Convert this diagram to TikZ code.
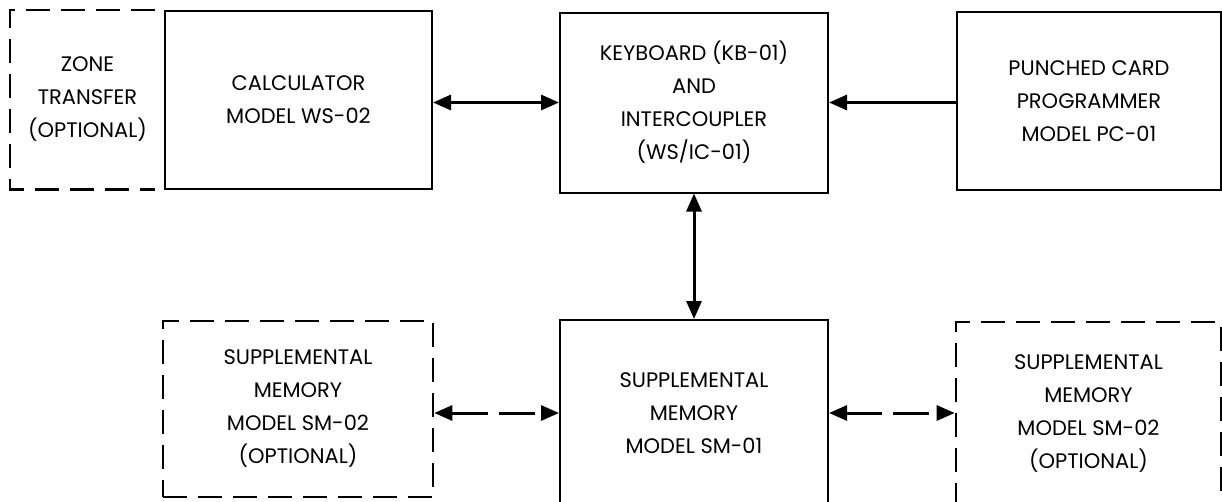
\documentclass[tikz,border=0pt]{standalone}
\usepackage{fontspec}
\setmainfont{Poppins}
\usetikzlibrary{calc}
\usetikzlibrary{positioning}
\usetikzlibrary{arrows.meta}
\tikzstyle{unitnode} = [draw, rectangle, line width=2pt, align=center, inner sep=0pt, font=\fontsize{21}{33}\selectfont]
\tikzstyle{optnode} = [unitnode, line width=2.6pt, dash pattern=on 24pt off 11pt]
\tikzstyle{optline} = [line width=2.6pt, dash pattern=on 24pt off 11pt]
\tikzstyle{link} = [line width=3pt, {Triangle[length=18pt,width=15pt]}-{Triangle[length=18pt,width=15pt]}]
\tikzstyle{feed} = [line width=3pt, -{Triangle[length=18pt,width=15pt]}]
\tikzstyle{optlink} = [link, dash pattern=on 36pt off 11pt]

\begin{document}
\begin{tikzpicture}[x=1pt, y=-1pt]
    \useasboundingbox (0,0) rectangle (1222,501);
    \node[unitnode, minimum width=268pt, minimum height=180pt] (kbd) at (694,102.5) {KEYBOARD (KB-01)\\AND\\INTERCOUPLER\\(WS/IC-01)};
    \node[unitnode, minimum width=267pt, minimum height=178pt] (calculator) at ($(kbd)+(-395.5,-2.5)$) {CALCULATOR\\MODEL WS-02};
    \node[unitnode, minimum width=264pt, minimum height=178pt] (punched) at ($(kbd)+(395,-1.5)$) {PUNCHED CARD\\PROGRAMMER\\MODEL PC-01};
    \node[align=center, inner sep=0pt, font=\fontsize{21}{33}\selectfont, minimum width=155pt, minimum height=179pt] (zone) at ($(calculator)+(-211,-0.5)$) {ZONE\\TRANSFER\\(OPTIONAL)};
    \node[unitnode, minimum width=268pt, minimum height=186pt] (sm01) at ($(kbd)+(0,310.5)$) {SUPPLEMENTAL\\MEMORY\\MODEL SM-01};
    \node[optnode, minimum width=270pt, minimum height=176pt] (smleft) at ($(sm01)+(-396,-4)$) {SUPPLEMENTAL\\MEMORY\\MODEL SM-02\\(OPTIONAL)};
    \node[optnode, minimum width=265pt, minimum height=184pt] (smright) at ($(sm01)+(394.5,1)$) {SUPPLEMENTAL\\MEMORY\\MODEL SM-02\\(OPTIONAL)};
    \draw[optline] ([xshift=-10pt]zone.north east) -| (zone.south west) -- ([xshift=-10pt]zone.south east);
    \draw[link] (kbd.west -| calculator.east) -- (kbd.west);
    \draw[feed] (kbd.east -| punched.west) -- (kbd.east);
    \draw[link] (kbd) -- (sm01);
    \draw[optlink] (sm01.west -| smleft.east) -- (sm01.west);
    \draw[optlink] (sm01.east) -- (sm01.east -| smright.west);
\end{tikzpicture}
\end{document}
